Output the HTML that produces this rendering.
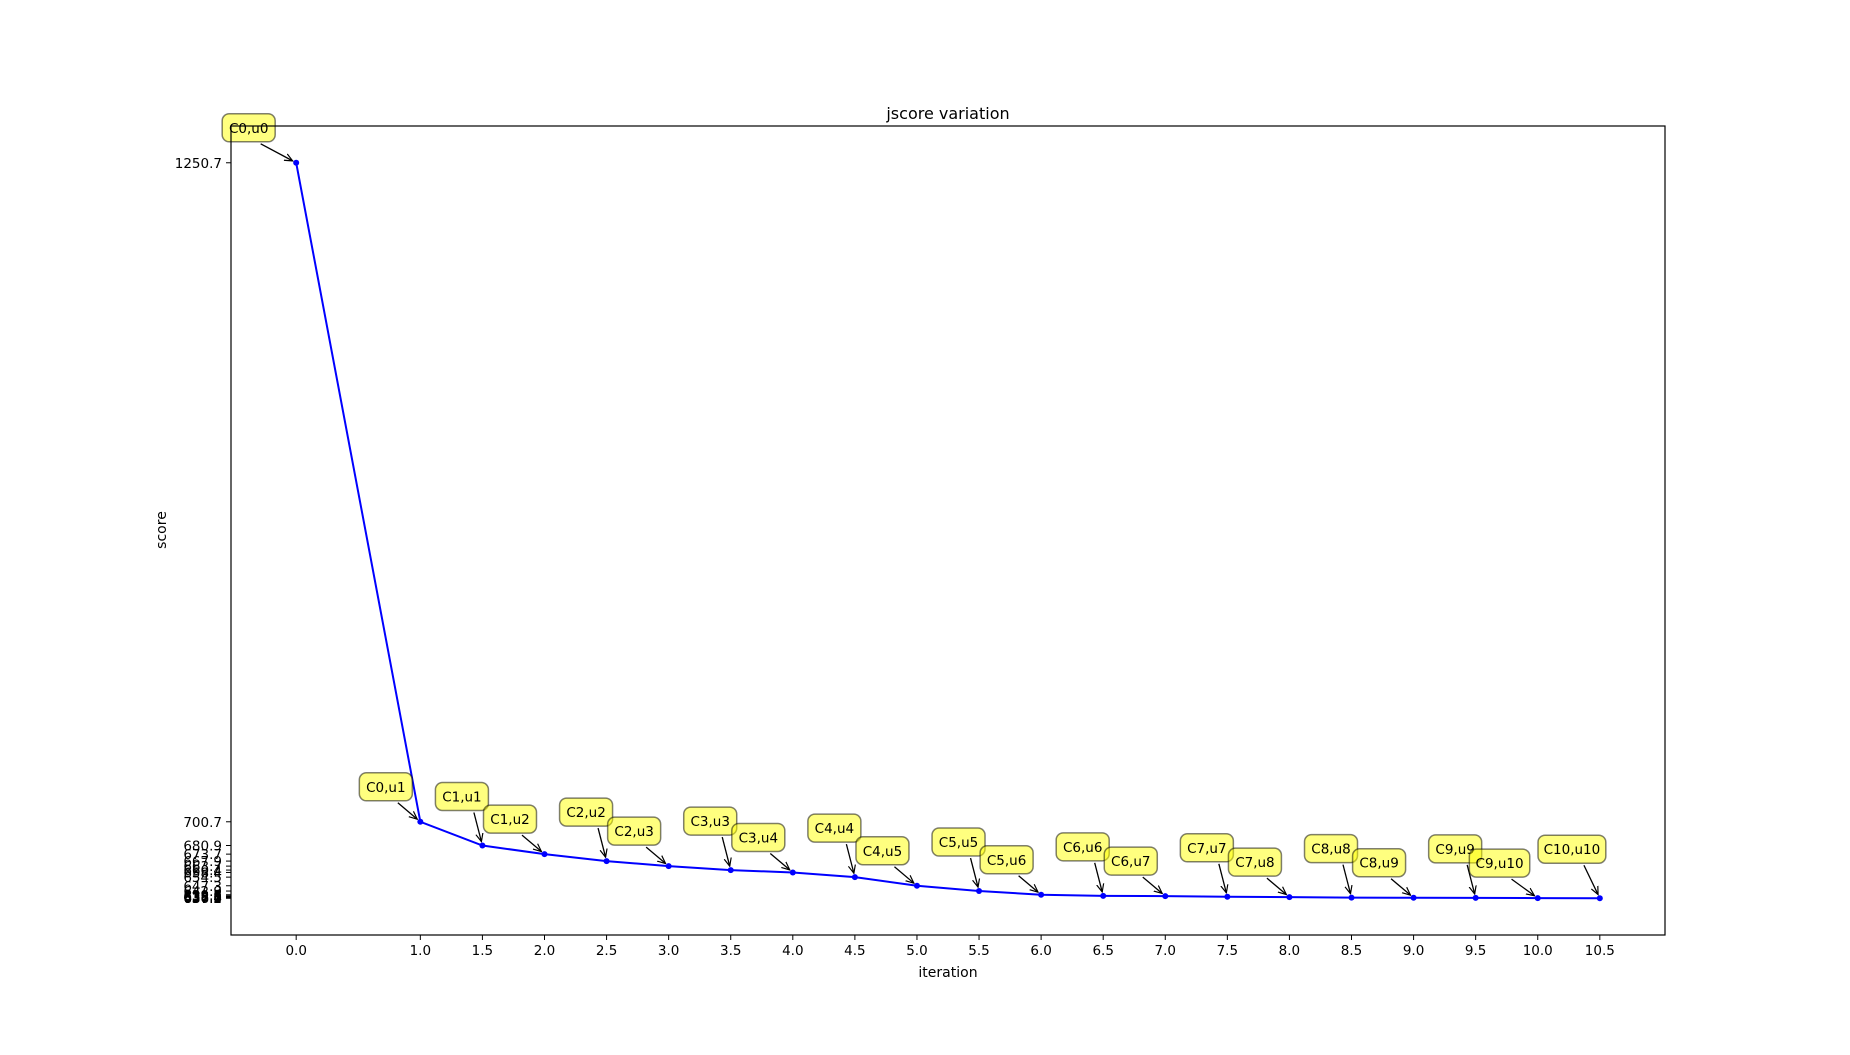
<!DOCTYPE html>
<html><head><meta charset="utf-8">
<style>
html,body{margin:0;padding:0;background:#fff;}
svg text{font-family:"DejaVu Sans","Liberation Sans",sans-serif;}
</style></head>
<body>
<svg id="chart" width="1850" height="1050" viewBox="0 0 1850 1050" xmlns="http://www.w3.org/2000/svg">
<defs>
<marker id="ah" viewBox="0 0 10 10" refX="9" refY="5" markerWidth="9" markerHeight="9" orient="auto" markerUnits="userSpaceOnUse">
<path d="M0,1 L9,5 L0,9" fill="none" stroke="#000" stroke-width="1.3"/>
</marker>
</defs>
<rect x="0" y="0" width="1850" height="1050" fill="#fff"/>
<text x="948" y="119" font-size="16" text-anchor="middle">jscore variation</text>
<text x="948" y="977" font-size="14" text-anchor="middle">iteration</text>
<text transform="translate(166,530) rotate(-90)" font-size="14" text-anchor="middle">score</text>
<g id="plot"></g>
<rect x="231" y="126" width="1434" height="809" fill="none" stroke="#000" stroke-width="1.2"/>
</svg>
<script>
const iterations = [0, 1, 1.5, 2, 2.5, 3, 3.5, 4, 4.5, 5, 5.5, 6, 6.5, 7, 7.5, 8, 8.5, 9, 9.5, 10, 10.5];
const scores = [1250.7, 700.7, 680.9, 673.7, 667.9, 663.7, 660.4, 658.4, 654.5, 647.3, 642.9, 639.8, 638.9, 638.7, 638.1, 637.8, 637.4, 637.3, 637.2, 637.0, 636.9];
const labels = ["C0,u0","C0,u1","C1,u1","C1,u2","C2,u2","C2,u3","C3,u3","C3,u4","C4,u4","C4,u5","C5,u5","C5,u6","C6,u6","C6,u7","C7,u7","C7,u8","C8,u8","C8,u9","C9,u9","C9,u10","C10,u10"];

const L=231,R=1665,T=126,B=935;
const xmin=-0.525,xmax=11.025;
const ymax=Math.max(...scores),ymin0=Math.min(...scores),ysp=ymax-ymin0;
const ylo=ymin0-0.05*ysp,yhi=ymax+0.05*ysp;
const sx=v=>L+(v-xmin)/(xmax-xmin)*(R-L);
const sy=v=>B-(v-ylo)/(yhi-ylo)*(B-T);
const NS='http://www.w3.org/2000/svg';
const g=document.getElementById('plot');
function mk(tag,attrs,parent){const e=document.createElementNS(NS,tag);for(const k in attrs)e.setAttribute(k,attrs[k]);(parent||g).appendChild(e);return e;}

iterations.forEach(v=>{
  const x=sx(v);
  const t=mk('line',{x1:x,x2:x,y1:B,y2:B+5,stroke:'#000','stroke-width':1});
  
  
  const tx=mk('text',{x:x,y:B+20,'font-size':13.5,'text-anchor':'middle'});
  tx.textContent=v.toFixed(1);
  
  
});
scores.forEach(v=>{
  const y=sy(v);
  const t=mk('line',{x1:L-5,x2:L,y1:y,y2:y,stroke:'#000','stroke-width':1});
  
  
  const tx=mk('text',{x:L-9,y:y+5,'font-size':13.5,'text-anchor':'end'});
  tx.textContent=v.toFixed(1);
  
  
});
const pts=iterations.map((v,i)=>sx(v)+','+sy(scores[i])).join(' ');
const pl=mk('polyline',{points:pts,fill:'none',stroke:'#0000ff','stroke-width':2});


iterations.forEach((v,i)=>{
  const c=mk('circle',{cx:sx(v),cy:sy(scores[i]),r:3,fill:'#0000ff'});
  
  
});
iterations.forEach((v,i)=>{
  const px=sx(v),py=sy(scores[i]);
  const lab=labels[i];
  const w=lab.length*7.4+16,h=28;
  let right,cy;
  if(i===0){right=px-21;cy=py-35;}
  else if(i===1){right=px-8;cy=py-35;}
  else if(i%2===0){right=px+6;cy=py-49;}
  else {right=px-8;cy=py-35;}
  const left=right-w,top=cy-h/2;
  const cx=left+w/2;
  const grp=mk('g',{});
  
  
  const dx=px-(cx+12),dy=py-(top+h+2);
  const len=Math.hypot(dx,dy);
  const ex=px-dx/len*4,ey=py-dy/len*4;
  mk('line',{x1:cx+12,y1:top+h+2,x2:ex,y2:ey,stroke:'#000','stroke-width':1.3,'marker-end':'url(#ah)'},grp);
  mk('rect',{x:left,y:top,width:w,height:h,rx:7,ry:7,fill:'#ffff00','fill-opacity':0.5,stroke:'#000','stroke-opacity':0.5,'stroke-width':1.5},grp);
  const tx=mk('text',{x:cx,y:cy+5,'font-size':13.5,'text-anchor':'middle'},grp);
  tx.textContent=lab;
});
</script>
</body></html>
